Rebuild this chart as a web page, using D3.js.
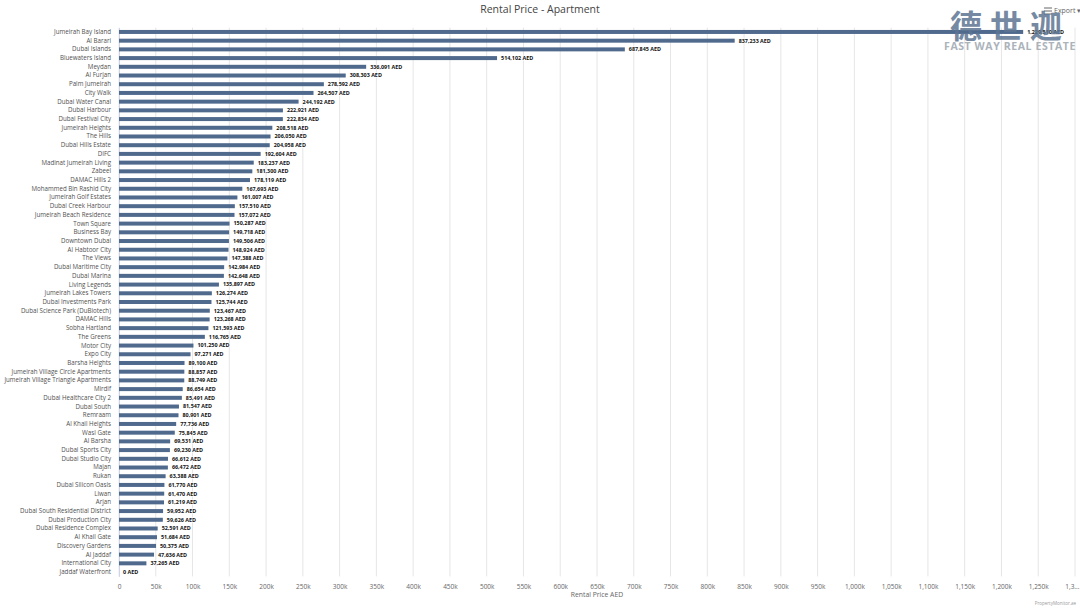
<!DOCTYPE html>
<html>
<head>
<meta charset="utf-8">
<title>Rental Price - Apartment</title>
<script src="https://cdn.jsdelivr.net/npm/d3@7"></script>
<style>
  body { margin: 0; background: #fff; font-family: 'Open Sans', 'DejaVu Sans', sans-serif; }
  #chart svg { display: block; }
</style>
</head>
<body>
<div id="chart"></div>
<script>
// Communities (categories), top to bottom.
var communities = [
  'Jumeirah Bay Island', 'Al Barari', 'Dubai Islands', 'Bluewaters Island', 'Meydan',
  'Al Furjan', 'Palm Jumeirah', 'City Walk', 'Dubai Water Canal', 'Dubai Harbour',
  'Dubai Festival City', 'Jumeirah Heights', 'The Hills', 'Dubai Hills Estate', 'DIFC',
  'Madinat Jumeirah Living', 'Zabeel', 'DAMAC Hills 2', 'Mohammed Bin Rashid City', 'Jumeirah Golf Estates',
  'Dubai Creek Harbour', 'Jumeirah Beach Residence', 'Town Square', 'Business Bay', 'Downtown Dubai',
  'Al Habtoor City', 'The Views', 'Dubai Maritime City', 'Dubai Marina', 'Living Legends',
  'Jumeirah Lakes Towers', 'Dubai Investments Park', 'Dubai Science Park (DuBiotech)', 'DAMAC Hills', 'Sobha Hartland',
  'The Greens', 'Motor City', 'Expo City', 'Barsha Heights', 'Jumeirah Village Circle Apartments',
  'Jumeirah Village Triangle Apartments', 'Mirdif', 'Dubai Healthcare City 2', 'Dubai South', 'Remraam',
  'Al Khail Heights', 'Wasl Gate', 'Al Barsha', 'Dubai Sports City', 'Dubai Studio City',
  'Majan', 'Rukan', 'Dubai Silicon Oasis', 'Liwan', 'Arjan',
  'Dubai South Residential District', 'Dubai Production City', 'Dubai Residence Complex', 'Al Khail Gate', 'Discovery Gardens',
  'Al Jaddaf', 'International City', 'Jaddaf Waterfront'
];
// Rental price in AED, same order.
var prices = [
  1229510, 837233, 687845, 514102, 336091,
  308303, 278592, 264507, 244192, 222921,
  222834, 208518, 206050, 204958, 192604,
  183237, 181300, 178119, 167693, 161007,
  157510, 157072, 150287, 149718, 149506,
  148924, 147388, 142984, 142648, 135897,
  126274, 125744, 123467, 123268, 121593,
  116765, 101250, 97271, 89100, 88857,
  88749, 86654, 85491, 81547, 80901,
  77736, 75845, 69531, 69230, 66612,
  66472, 63388, 61770, 61470, 61219,
  59952, 59626, 52591, 51684, 50375,
  47636, 37265, 0
];
// X axis ticks (every 50k up to 1.3M).
var tickValues = d3.range(0, 1300001, 50000);

var graphWidth = 1080, graphHeight = 608;
var plot = {left: 119, right: 1075, top: 27.6, bottom: 576.4};

var svg = d3.select('#chart').append('svg')
    .attr('width', graphWidth)
    .attr('height', graphHeight);

// Scales.
var xScale = d3.scaleLinear().domain([0, 1300000]).range([plot.left, plot.right]);
var yScale = d3.scaleBand().domain(communities).range([plot.top, plot.bottom]);

// Vertical grid lines.
svg.append('g')
    .selectAll('line')
    .data(tickValues)
    .enter()
    .append('line')
    .attr('x1', function (d) {return xScale(d);})
    .attr('x2', function (d) {return xScale(d);})
    .attr('y1', plot.top)
    .attr('y2', plot.bottom)
    .attr('stroke', '#e6e6e6')
    .attr('stroke-width', 1);

// X axis (labels only, no domain line).
var fmt = d3.format(',');
var xAxis = d3.axisBottom(xScale)
    .tickValues(tickValues)
    .tickSize(0)
    .tickPadding(8)
    .tickFormat(function (d) {
        if (d === 0) return '0';
        if (d === 1300000) return '1,3...';
        return fmt(d / 1000) + 'k';
    });
var gx = svg.append('g')
    .attr('transform', 'translate(0,' + plot.bottom + ')')
    .call(xAxis);
gx.select('.domain').remove();
gx.selectAll('text')
    .attr('fill', '#666')
    .style('font-size', '6.5px')
    .style('font-family', "'Open Sans', sans-serif");
gx.selectAll('.tick')
    .filter(function (d) {return d === 1300000;})
    .select('text')
    .attr('text-anchor', 'end')
    .attr('x', 4);

// Y axis (category labels).
var yAxis = d3.axisLeft(yScale).tickSize(0).tickPadding(8);
var gy = svg.append('g')
    .attr('transform', 'translate(' + plot.left + ',0)')
    .call(yAxis);
gy.select('.domain').attr('stroke', '#ccd6eb');
gy.selectAll('text')
    .attr('fill', '#505050')
    .style('font-size', '6.2px')
    .style('font-family', "'Open Sans', sans-serif");

// Bars.
var barHeight = 4;
svg.append('g')
    .selectAll('rect')
    .data(prices)
    .enter()
    .append('rect')
    .attr('x', plot.left)
    .attr('y', function (d, i) {return yScale(communities[i]) + yScale.bandwidth() / 2 - barHeight / 2;})
    .attr('width', function (d) {return xScale(d) - plot.left;})
    .attr('height', barHeight)
    .attr('fill', '#506a8e');

// Data labels.
svg.append('g')
    .selectAll('text')
    .data(prices)
    .enter()
    .append('text')
    .attr('x', function (d) {return xScale(d) + 4;})
    .attr('y', function (d, i) {return yScale(communities[i]) + yScale.bandwidth() / 2;})
    .attr('dy', '0.35em')
    .attr('fill', '#111')
    .attr('stroke', '#fff')
    .attr('stroke-width', 1.2)
    .attr('paint-order', 'stroke')
    .style('font-size', '5.4px')
    .style('font-weight', 'bold')
    .style('font-family', "'Open Sans', sans-serif")
    .text(function (d) {return fmt(d) + ' AED';});

// Title.
svg.append('text')
    .attr('x', graphWidth / 2)
    .attr('y', 13)
    .attr('text-anchor', 'middle')
    .attr('fill', '#444')
    .style('font-size', '10.5px')
    .style('font-family', "'Open Sans', sans-serif")
    .text('Rental Price - Apartment');

// X axis title.
svg.append('text')
    .attr('x', (plot.left + plot.right) / 2)
    .attr('y', 597)
    .attr('text-anchor', 'middle')
    .attr('fill', '#666')
    .style('font-size', '6.8px')
    .style('font-family', "'Open Sans', sans-serif")
    .text('Rental Price AED');

// Credits.
svg.append('text')
    .attr('x', 1076)
    .attr('y', 605)
    .attr('text-anchor', 'end')
    .attr('fill', '#999')
    .style('font-size', '4.5px')
    .style('font-family', "'Open Sans', sans-serif")
    .text('PropertyMonitor.ae');

// Export button.
var exp = svg.append('g').attr('transform', 'translate(1044,13)');
[-3, 0, 3].forEach(function (dy) {
    exp.append('line')
        .attr('x1', 0).attr('x2', 8)
        .attr('y1', dy - 2).attr('y2', dy - 2)
        .attr('stroke', '#666').attr('stroke-width', 1);
});
exp.append('text')
    .attr('x', 10)
    .attr('y', 0)
    .attr('fill', '#666')
    .style('font-size', '7px')
    .style('font-family', "'Open Sans', sans-serif")
    .text('Export ▾');

// Watermark.
svg.append('text')
    .attr('x', 1010)
    .attr('y', 38)
    .attr('text-anchor', 'middle')
    .attr('fill', '#5d7592')
    .attr('opacity', 0.85)
    .style('font-size', '32px')
    .style('font-weight', 'bold')
    .style('letter-spacing', '8px')
    .style('font-family', "'Noto Sans CJK SC', sans-serif")
    .text('德世迦');
svg.append('text')
    .attr('x', 1010)
    .attr('y', 50)
    .attr('text-anchor', 'middle')
    .attr('fill', '#a3abb4')
    .attr('opacity', 0.9)
    .style('font-size', '10.5px')
    .style('font-weight', 'bold')
    .style('letter-spacing', '0.6px')
    .style('font-family', "'Open Sans', sans-serif")
    .text('FAST WAY REAL ESTATE');
</script>
</body>
</html>
